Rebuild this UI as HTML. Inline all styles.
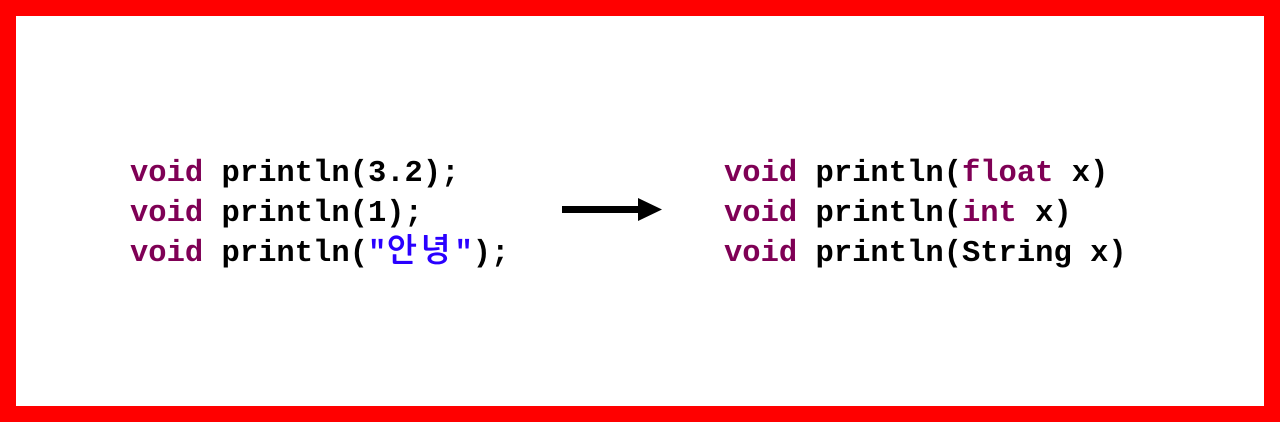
<!DOCTYPE html>
<html><head><style>
html,body{margin:0;padding:0}
body{width:1280px;height:422px;position:relative;background:#fff;overflow:hidden}
.frame{position:absolute;left:0;top:0;width:1280px;height:422px;box-sizing:border-box;border:16px solid #ff0000}
.code{position:absolute;font-family:"Liberation Mono","NanumGothic",monospace;font-weight:bold;font-size:30.5px;line-height:40px;color:#000;white-space:pre}
.k{color:#7f0055}.s{color:#2a00ff}
.h{font-size:32px;letter-spacing:4px;line-height:0}
</style></head><body>
<div class="frame"></div>
<div class="code" style="left:130px;top:154px"><span class="k">void</span> println(3.2);
<span class="k">void</span> println(1);
<span class="k">void</span> println(<span class="s">"<span class="h">안녕</span>"</span>);</div>
<svg style="position:absolute;left:0;top:0" width="1280" height="422">
<rect x="562" y="206" width="78" height="7" fill="#000"/>
<polygon points="638,198 662,209.5 638,221" fill="#000"/>
</svg>
<div class="code" style="left:724px;top:154px"><span class="k">void</span> println(<span class="k">float</span> x)
<span class="k">void</span> println(<span class="k">int</span> x)
<span class="k">void</span> println(String x)</div>
</body></html>
